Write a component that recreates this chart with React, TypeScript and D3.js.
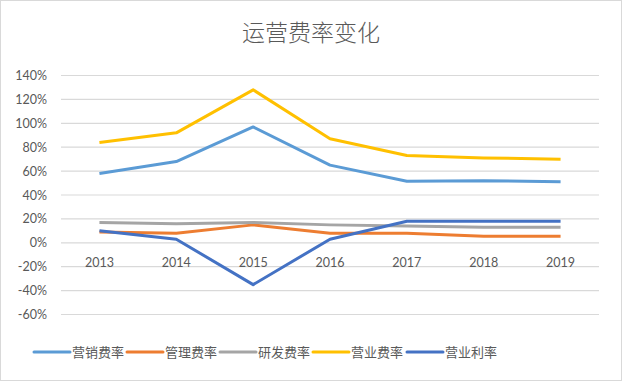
import React, { useEffect } from "react";
import * as d3 from "d3";

const years = ["2013", "2014", "2015", "2016", "2017", "2018", "2019"];
const seriesNames = ["营销费率", "管理费率", "研发费率", "营业费率", "营业利率"];
const seriesColors = ["#5B9BD5", "#ED7D31", "#A5A5A5", "#FFC000", "#4472C4"];
const marketing = [0.58, 0.68, 0.97, 0.65, 0.515, 0.52, 0.51];
const management = [0.09, 0.08, 0.15, 0.08, 0.08, 0.055, 0.055];
const rnd = [0.17, 0.16, 0.17, 0.15, 0.14, 0.13, 0.13];
const operatingCost = [0.84, 0.92, 1.28, 0.87, 0.73, 0.71, 0.70];
const operatingProfit = [0.10, 0.03, -0.35, 0.03, 0.18, 0.18, 0.18];
const yTicks = [1.4, 1.2, 1.0, 0.8, 0.6, 0.4, 0.2, 0, -0.2, -0.4, -0.6];

const W = 622;
const H = 381;
const font = "Lato, 'Noto Sans CJK SC', sans-serif";

export default function App() {
  useEffect(() => {
    document.body.style.margin = "0";
  }, []);

  const x = d3.scaleBand<string>().domain(years).range([61, 599]);
  const y = d3.scaleLinear().domain([-0.6, 1.4]).range([314.5, 75.5]);
  const allSeries = [marketing, management, rnd, operatingCost, operatingProfit];
  const line = d3
    .line<number>()
    .x((_, i) => (x(years[i]) as number) + x.bandwidth() / 2)
    .y((d) => y(d));

  const legendX = [34, 127, 220, 313, 407];

  return (
    <svg width={W} height={H} style={{ display: "block" }}>
      <rect x={0} y={0} width={W} height={H} fill="#fff" />
      <rect x={0.5} y={0.5} width={W - 1} height={H - 1} fill="none" stroke="#d9d9d9" />
      <text
        x={311}
        y={41}
        textAnchor="middle"
        fontFamily="'Noto Sans CJK SC', sans-serif"
        fontWeight={300}
        fontSize={23}
        fill="#595959"
      >
        运营费率变化
      </text>
      {yTicks.map((t) => (
        <g key={t}>
          <line x1={61} x2={599} y1={y(t)} y2={y(t)} stroke="#d9d9d9" strokeWidth={1.2} />
          <text
            x={47}
            y={y(t) + 4.5}
            textAnchor="end"
            fontFamily={font}
            fontSize={12.5}
            fill="#595959"
          >
            {`${Math.round(t * 100)}%`}
          </text>
        </g>
      ))}
      {years.map((yr) => (
        <text
          key={yr}
          x={(x(yr) as number) + x.bandwidth() / 2}
          y={267}
          textAnchor="middle"
          fontFamily={font}
          fontSize={12.5}
          fill="#595959"
        >
          {yr}
        </text>
      ))}
      {allSeries.map((s, i) => (
        <path
          key={i}
          d={line(s) as string}
          fill="none"
          stroke={seriesColors[i]}
          strokeWidth={3}
          strokeLinejoin="round"
        />
      ))}
      {seriesNames.map((n, i) => (
        <g key={n}>
          <line
            x1={legendX[i]}
            x2={legendX[i] + 36}
            y1={352}
            y2={352}
            stroke={seriesColors[i]}
            strokeWidth={3}
            strokeLinecap="round"
          />
          <text x={legendX[i] + 38} y={357} fontFamily={font} fontSize={13} fill="#595959">
            {n}
          </text>
        </g>
      ))}
    </svg>
  );
}
